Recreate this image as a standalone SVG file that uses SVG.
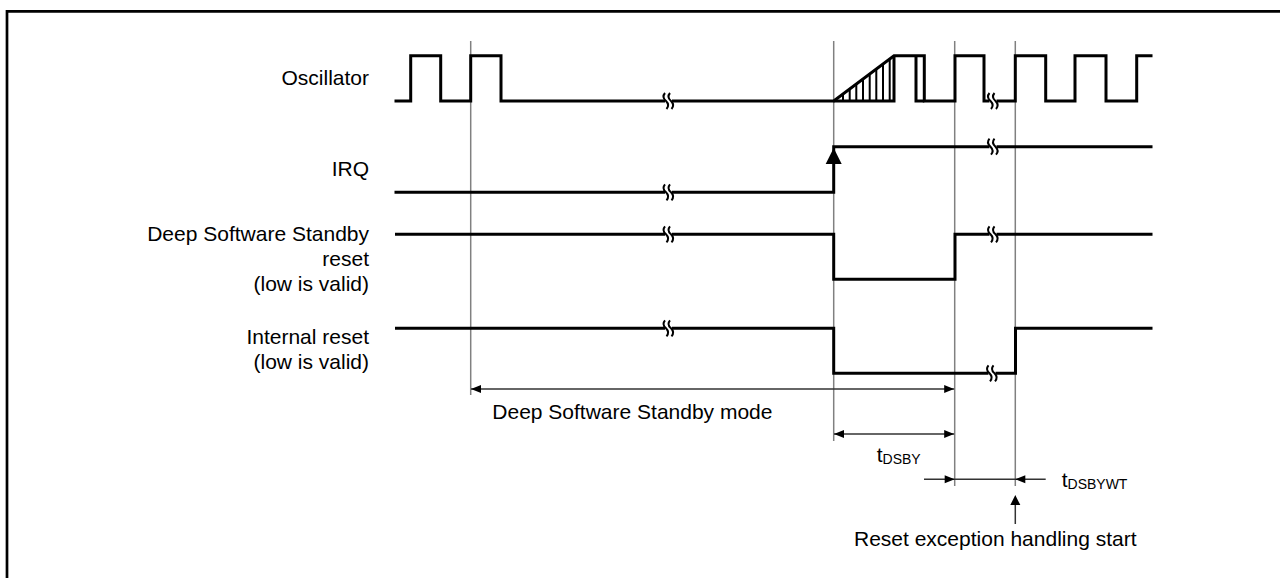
<svg xmlns="http://www.w3.org/2000/svg" xmlns:xlink="http://www.w3.org/1999/xlink" width="1280" height="578" viewBox="0 0 1280 578">
<style>
  text { font-family: "Liberation Sans", Arial, sans-serif; font-size: 21px; fill: #000; }
  .lbl { text-anchor: end; }
  .sub { font-size: 14px; }
  .sig { fill: none; stroke: #000; stroke-width: 3; stroke-linejoin: miter; stroke-linecap: butt; }
  .hatch { fill: none; stroke: #000; stroke-width: 2; }
  .guide { fill: none; stroke: #808080; stroke-width: 1.5; }
  .dim { fill: none; stroke: #333; stroke-width: 1.5; }
  .head { fill: #000; stroke: none; }
  .brkw { fill: none; stroke: #000; stroke-width: 2; }
</style>
<defs>
  <marker id="arr" markerUnits="userSpaceOnUse" markerWidth="10" markerHeight="8" refX="10" refY="4" orient="auto-start-reverse" viewBox="0 0 10 8">
    <path d="M0,0 L10,4 L0,8 Z" fill="#000"/>
  </marker>
  <g id="brk">
    <rect x="-3.5" y="-3" width="7" height="6" fill="#fff"/>
    <path class="brkw" d="M-3.5,-8 Q-7,-4 -2.5,0 Q1.5,4 -2,8"/>
    <path class="brkw" d="M1.5,-8 Q-2,-4 2.5,0 Q6.5,4 3,8"/>
  </g>
</defs>

<rect x="0" y="0" width="1280" height="578" fill="#fff"/>
<path d="M7,578 V11.3 H1280" fill="none" stroke="#000" stroke-width="2.7"/>

<g id="connectors">
  <line class="guide" x1="470.7" y1="41" x2="470.7" y2="395"/>
  <line class="guide" x1="833.7" y1="41" x2="833.7" y2="441"/>
  <line class="guide" x1="954.7" y1="41" x2="954.7" y2="486"/>
  <line class="guide" x1="1015.3" y1="41" x2="1015.3" y2="486"/>
  <line class="dim" x1="471" y1="389" x2="954.2" y2="389" marker-start="url(#arr)" marker-end="url(#arr)"/>
  <line class="dim" x1="834" y1="434" x2="954.2" y2="434" marker-start="url(#arr)" marker-end="url(#arr)"/>
  <line class="dim" x1="924" y1="479.3" x2="1045.7" y2="479.3"/>
  <path class="head" d="M954.7,479.3 L944.7,475.3 L944.7,483.3 Z"/>
  <path class="head" d="M1015.3,479.3 L1025.3,475.3 L1025.3,483.3 Z"/>
  <line class="dim" x1="1015.3" y1="524" x2="1015.3" y2="504"/>
  <path class="head" d="M1015.3,495 L1010.3,505 L1020.3,505 Z"/>
</g>

<g id="oscillator">
  <text class="lbl" x="369" y="85">Oscillator</text>
  <path class="sig" d="M394.5,101 H410.7 V55.7 H440.7 V101 H470.7 V55.7 H501 V101 H833.7 L894,55.7 H924.3 V101 H955 V55.7 H984 V101 H1015.3 V55.7 H1045.7 V101 H1075 V55.7 H1106 V101 H1136.7 V55.7 H1152.5"/>
  <path class="sig" d="M833.7,101 H894 V55.7"/>
  <path class="sig" d="M916,55.7 V101 H924.3"/>
  <path class="hatch" d="M843,94 V101 M849.7,89 V101 M856.3,84 V101 M863,79 V101 M869.7,74 V101 M876.3,69 V101 M883,64 V101 M889.7,59 V101"/>
  <use xlink:href="#brk" x="668.5" y="101"/>
  <use xlink:href="#brk" x="993" y="101"/>
</g>

<g id="irq">
  <text class="lbl" x="369" y="176">IRQ</text>
  <path class="sig" d="M394.5,192.3 H833.7 V146.7 H1152.5"/>
  <path class="head" d="M833.7,148 L825.7,164 L841.7,164 Z"/>
  <use xlink:href="#brk" x="668.5" y="192.3"/>
  <use xlink:href="#brk" x="993" y="146.7"/>
</g>

<g id="dss-reset">
  <text class="lbl" x="369" y="241">Deep Software Standby</text>
  <text class="lbl" x="369" y="266">reset</text>
  <text class="lbl" x="369" y="291">(low is valid)</text>
  <path class="sig" d="M395,234.3 H833.7 V279.3 H955 V234.3 H1152.5"/>
  <use xlink:href="#brk" x="668.5" y="234.3"/>
  <use xlink:href="#brk" x="993" y="234.3"/>
</g>

<g id="internal-reset">
  <text class="lbl" x="369" y="344">Internal reset</text>
  <text class="lbl" x="369" y="369">(low is valid)</text>
  <path class="sig" d="M395,328.3 H833.7 V373.3 H1015.5 V328.3 H1152.5"/>
  <use xlink:href="#brk" x="668.5" y="328.3"/>
  <use xlink:href="#brk" x="992" y="373.3"/>
</g>

<g id="label-dss-mode">
  <text x="492.3" y="419">Deep Software Standby mode</text>
</g>
<g id="label-tdsby">
  <text x="876.7" y="462">t<tspan class="sub" dy="2">DSBY</tspan></text>
</g>
<g id="label-tdsbywt">
  <text x="1061.7" y="487">t<tspan class="sub" dy="2">DSBYWT</tspan></text>
</g>
<g id="label-reset-start">
  <text x="854" y="545.5">Reset exception handling start</text>
</g>
</svg>
